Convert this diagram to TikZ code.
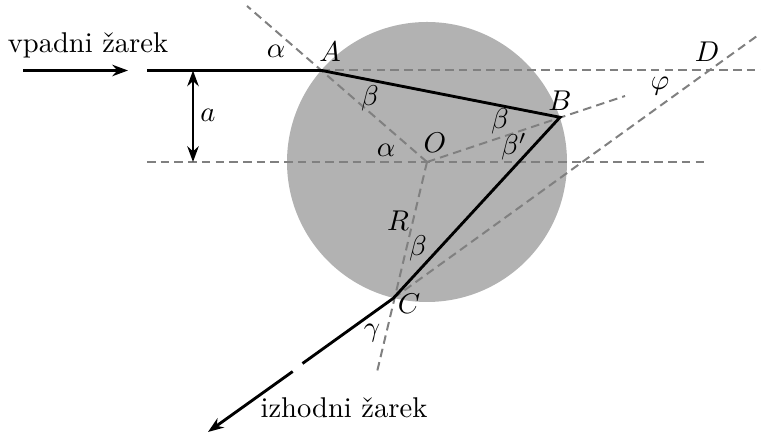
\documentclass[tikz,border=0pt]{standalone}
\usetikzlibrary{arrows.meta}
\begin{document}
\begin{tikzpicture}[x=0.35pt,y=-0.35pt,
  ray/.style={line width=1pt,black},
  aux/.style={line width=0.7pt,gray,dash pattern=on 3pt off 1.8pt},
  tip/.style={-{Stealth[length=5.5pt,width=4pt]}},
  lbl/.style={inner sep=0pt}]
\useasboundingbox (0,0) rectangle (761,435);
% points
\coordinate (O) at (427,162);
\coordinate (A) at (321.7,70.5);
\coordinate (B) at (560,117.3);
\coordinate (C) at (393.3,298.3);
\coordinate (D) at (708,70.5);
\coordinate (inS) at (147,70.5);
\coordinate (topE) at (761,70.5);
\coordinate (midS) at (147,162);
\coordinate (midE) at (708,162);
\coordinate (nA) at (247,6);
\coordinate (nB) at (625,96);
\coordinate (nC) at (377,372);
\coordinate (Dx) at (757,36);
\coordinate (g1) at (302.5,363.5);
\coordinate (g2) at (292.7,371.5);
\coordinate (tipE) at (208,432);
\coordinate (arS) at (23,70.5);
\coordinate (arE) at (128,70.5);
\coordinate (aT) at (193,70.5);
\coordinate (aB) at (193,162);
% sphere
\fill[gray!60] (O) circle[radius=140];
% auxiliary dashed lines
\draw[aux] (A) -- (topE);
\draw[aux] (midS) -- (midE);
\draw[aux] (O) -- (nA);
\draw[aux] (O) -- (nB);
\draw[aux] (O) -- (nC);
\draw[aux] (C) -- (Dx);
% rays
\draw[ray] (inS) -- (A) -- (B) -- (C) -- (g1);
\draw[ray,tip] (g2) -- (tipE);
\draw[ray,tip] (arS) -- (arE);
\draw[ray,{Stealth[length=5.5pt,width=4pt]}-{Stealth[length=5.5pt,width=4pt]}] (aT) -- (aB);
% labels
\node[lbl] (tIn) at (88,45) {vpadni žarek};
\node[lbl] (tOut) at (344,408) {izhodni žarek};
\node[lbl] (la) at (208,115) {$a$};
\node[lbl] (lalpha1) at (276,51) {$\alpha$};
\node[lbl] (lA) at (330,52) {$A$};
\node[lbl] (lbetaA) at (370,98) {$\beta$};
\node[lbl] (lB) at (560,101) {$B$};
\node[lbl] (lbetaB) at (500,121) {$\beta$};
\node[lbl] (lbetap) at (514,147) {$\beta'$};
\node[lbl] (lO) at (435,143) {$O$};
\node[lbl] (lalpha2) at (386,150) {$\alpha$};
\node[lbl] (lphi) at (660,86) {$\varphi$};
\node[lbl] (lD) at (707,52) {$D$};
\node[lbl] (lR) at (398,221) {$R$};
\node[lbl] (lbetaC) at (418,248) {$\beta$};
\node[lbl] (lC) at (409,304) {$C$};
\node[lbl] (lgamma) at (372,333) {$\gamma$};
\end{tikzpicture}
\end{document}
